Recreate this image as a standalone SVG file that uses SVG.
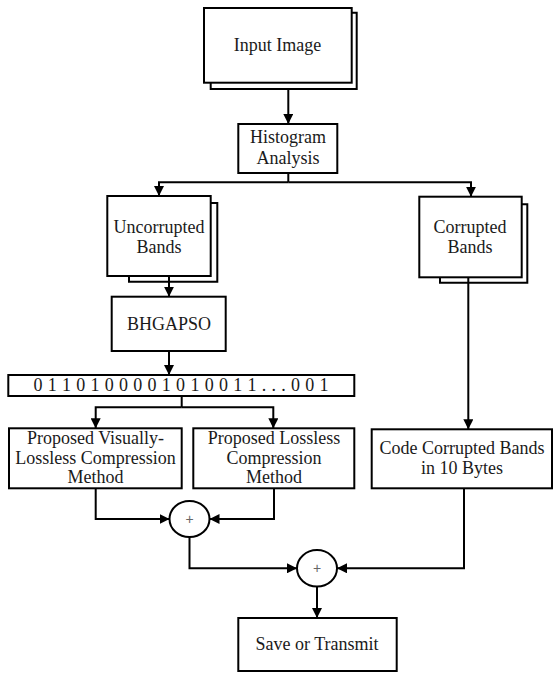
<svg xmlns="http://www.w3.org/2000/svg" width="555" height="673" viewBox="0 0 555 673">
<style>
.box{fill:#fff;stroke:#000;stroke-width:2}
.sh{fill:none;stroke:#000;stroke-width:2}
.ln{fill:none;stroke:#000;stroke-width:2}
.t{font-family:"Liberation Serif","Times New Roman",serif;font-size:18px;fill:#1a1a1a;text-anchor:middle}
.p{font-family:"Liberation Sans",Arial,sans-serif;font-size:14px;fill:#666;text-anchor:middle}
</style>
<defs>
<marker id="ah" markerUnits="userSpaceOnUse" markerWidth="10" markerHeight="10" refX="10" refY="5" orient="auto">
<path d="M0,0 L10,5 L0,10 z" fill="#000"/>
</marker>
</defs>
<rect width="555" height="673" fill="#fff"/>
<g id="connectors">
<path class="ln" d="M288.3,89 V124" marker-end="url(#ah)"/>
<path class="ln" d="M288.3,173 V182.3"/>
<path class="ln" d="M288.3,182.3 H159 V196" marker-end="url(#ah)"/>
<path class="ln" d="M288.3,182.3 H471 V196.7" marker-end="url(#ah)"/>
<path class="ln" d="M169,276 V296.7" marker-end="url(#ah)"/>
<path class="ln" d="M169,351 V375" marker-end="url(#ah)"/>
<path class="ln" d="M181.7,396 V407.3"/>
<path class="ln" d="M181.7,407.3 H95.7 V428.3" marker-end="url(#ah)"/>
<path class="ln" d="M181.7,407.3 H273.3 V428.3" marker-end="url(#ah)"/>
<path class="ln" d="M468.3,277.3 V429.3" marker-end="url(#ah)"/>
<path class="ln" d="M95.7,488.3 V519 H169.5" marker-end="url(#ah)"/>
<path class="ln" d="M274,488.3 V519 H209.5" marker-end="url(#ah)"/>
<path class="ln" d="M189.5,537 V568.3 H297" marker-end="url(#ah)"/>
<path class="ln" d="M464,488.3 V568.3 H337" marker-end="url(#ah)"/>
<path class="ln" d="M317,586.5 V618" marker-end="url(#ah)"/>
</g>
<g id="input-image">
<path class="sh" d="M210.7,82.7 V89 H356.7 V12.7 H351.7"/>
<rect class="box" x="204" y="8" width="147.7" height="74.7"/>
<text class="t" x="277.5" y="50.5">Input Image</text>
</g>
<g id="histogram">
<rect class="box" x="238.3" y="124" width="99" height="49"/>
<text class="t" x="288" y="143">Histogram</text>
<text class="t" x="288" y="164">Analysis</text>
</g>
<g id="uncorrupted">
<path class="sh" d="M129,276 V281.7 H217.3 V203 H210.7"/>
<rect class="box" x="107.3" y="196" width="103.4" height="80"/>
<text class="t" x="159" y="232.5">Uncorrupted</text>
<text class="t" x="159" y="253">Bands</text>
</g>
<g id="corrupted">
<path class="sh" d="M440,277.3 V282.7 H527.3 V204.3 H521.7"/>
<rect class="box" x="419.3" y="196.7" width="102.4" height="80.6"/>
<text class="t" x="470" y="232.5">Corrupted</text>
<text class="t" x="470" y="253">Bands</text>
</g>
<g id="bhgapso">
<rect class="box" x="111.7" y="296.7" width="114" height="54.3"/>
<text class="t" x="169" y="330">BHGAPSO</text>
</g>
<g id="binary">
<rect class="box" x="8.3" y="375" width="346" height="21"/>
<text class="t" x="181" y="390.5" textLength="295" lengthAdjust="spacing">0 1 1 0 1 0 0 0 0 1 0 1 0 0 1 1 . . . 0 0 1</text>
</g>
<g id="visually-lossless">
<rect class="box" x="9" y="428.3" width="172.7" height="60"/>
<text class="t" x="95.5" y="444">Proposed Visually-</text>
<text class="t" x="95.5" y="463.5">Lossless Compression</text>
<text class="t" x="95.5" y="483">Method</text>
</g>
<g id="lossless">
<rect class="box" x="193.3" y="428.3" width="161" height="60"/>
<text class="t" x="274" y="444">Proposed Lossless</text>
<text class="t" x="274" y="463.5">Compression</text>
<text class="t" x="274" y="483">Method</text>
</g>
<g id="code-corrupted">
<rect class="box" x="371.7" y="429.3" width="180.3" height="59"/>
<text class="t" x="462" y="454">Code Corrupted Bands</text>
<text class="t" x="462" y="473.5">in 10 Bytes</text>
</g>
<g id="sum1">
<ellipse class="box" cx="189.5" cy="519" rx="20" ry="18"/>
<text class="p" x="189.5" y="524">+</text>
</g>
<g id="sum2">
<ellipse class="box" cx="317" cy="568.3" rx="20" ry="18.2"/>
<text class="p" x="317" y="573.3">+</text>
</g>
<g id="save">
<rect class="box" x="238.3" y="618" width="158.4" height="53"/>
<text class="t" x="317" y="650">Save or Transmit</text>
</g>
</svg>
